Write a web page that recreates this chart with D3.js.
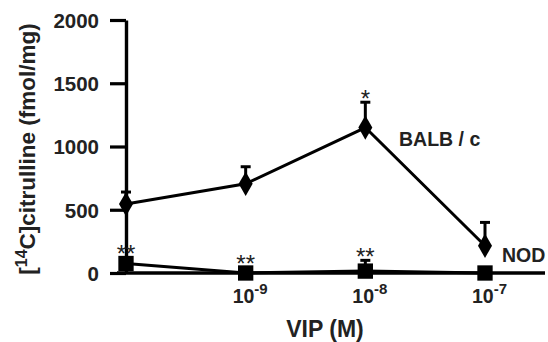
<!DOCTYPE html>
<html>
<head>
<meta charset="utf-8">
<script src="https://cdn.jsdelivr.net/npm/d3@7"></script>
<style>
  body { margin: 0; background: #fff; }
  text { font-family: "Liberation Sans", Arial, sans-serif; font-weight: bold; fill: #222; }
</style>
</head>
<body>
<script>
// doses: index 0 is the no-VIP control, drawn at the y axis
var doses = ["", "-9", "-8", "-7"];
var balbMean = [545, 705, 1150, 215];
var balbErr = [95, 135, 200, 185];
var nodMean = [75, 0, 15, 0];
var nodErr = [0, 0, 85, 0];
var balbStars = ["", "", "*", ""];
var nodStars = ["**", "**", "**", ""];
var yTicks = [0, 500, 1000, 1500, 2000];

var width = 548, height = 342;
var svg = d3.select("body").append("svg")
    .attr("width", width).attr("height", height);

var x = d3.scaleLinear().domain([0, 3]).range([126, 485]);
var y = d3.scaleLinear().domain([0, 2000]).range([273, 20]);

// y axis
var yAxis = svg.append("g")
    .attr("transform", "translate(126,0)")
    .call(d3.axisLeft(y).tickValues(yTicks).tickFormat(d3.format("d"))
        .tickSize(16).tickPadding(11).tickSizeOuter(0));
yAxis.attr("font-family", null).attr("font-size", null);
yAxis.select(".domain").attr("stroke", "#000").attr("stroke-width", 3.4);
yAxis.selectAll(".tick line").attr("stroke", "#000").attr("stroke-width", 3.2);
yAxis.selectAll(".tick text").style("font-size", "20.5px").attr("fill", "#222").attr("dy", "0.36em");

// x axis line
svg.append("line")
    .attr("x1", 117).attr("x2", 545)
    .attr("y1", y(0)).attr("y2", y(0))
    .attr("stroke", "#000").attr("stroke-width", 3.4);

// x tick labels 10^n
doses.forEach(function (d, i) {
    if (!d) return;
    var t = svg.append("text")
        .attr("x", x(i) - 13).attr("y", 303)
        .style("font-size", "19.5px");
    t.append("tspan").text("10");
    t.append("tspan").attr("dy", -9).style("font-size", "15px").text(d);
});

svg.append("text")
    .attr("x", 325).attr("y", 337)
    .attr("text-anchor", "middle")
    .style("font-size", "23px")
    .text("VIP (M)");

var yt = svg.append("text")
    .attr("transform", "translate(35,149) rotate(-90)")
    .attr("text-anchor", "middle")
    .style("font-size", "22.5px");
yt.append("tspan").text("[");
yt.append("tspan").attr("dy", -8).style("font-size", "16px").text("14");
yt.append("tspan").attr("dy", 8).text("C]citrulline (fmol/mg)");

var line = d3.line()
    .x(function (d, i) { return x(i); })
    .y(function (d) { return y(d); });

function series(mean, err, shape, size) {
    // error bars (upper only)
    mean.forEach(function (m, i) {
        if (!err[i]) return;
        svg.append("line")
            .attr("x1", x(i)).attr("x2", x(i))
            .attr("y1", y(m)).attr("y2", y(m + err[i]))
            .attr("stroke", "#000").attr("stroke-width", 3);
        svg.append("line")
            .attr("x1", x(i) - 5).attr("x2", x(i) + 5)
            .attr("y1", y(m + err[i])).attr("y2", y(m + err[i]))
            .attr("stroke", "#000").attr("stroke-width", 3);
    });
    svg.append("path")
        .attr("d", line(mean))
        .attr("fill", "none")
        .attr("stroke", "#000")
        .attr("stroke-width", 3);
    svg.selectAll(null)
        .data(mean).enter().append("path")
        .attr("transform", function (d, i) { return "translate(" + x(i) + "," + y(d) + ")"; })
        .attr("d", d3.symbol().type(shape).size(size))
        .attr("fill", "#000");
}

series(balbMean, balbErr, d3.symbolDiamond, 170);
series(nodMean, nodErr, d3.symbolSquare, 235);

// significance marks, baseline offset above the error cap / marker
function stars(labels, mean, err, off) {
    labels.forEach(function (s, i) {
        if (!s) return;
        svg.append("text")
            .attr("x", x(i)).attr("y", y(mean[i] + err[i]) - off[i])
            .attr("text-anchor", "middle")
            .style("font-size", "24px")
            .style("font-weight", "normal")
            .text(s);
    });
}
stars(balbStars, balbMean, balbErr, [0, 0, -5, 0]);
stars(nodStars, nodMean, nodErr, [2, 1, -5, 0]);

svg.append("text").attr("x", 399).attr("y", 146)
    .style("font-size", "19.5px").text("BALB / c");
svg.append("text").attr("x", 502).attr("y", 262)
    .style("font-size", "19.5px").text("NOD");
</script>
</body>
</html>
